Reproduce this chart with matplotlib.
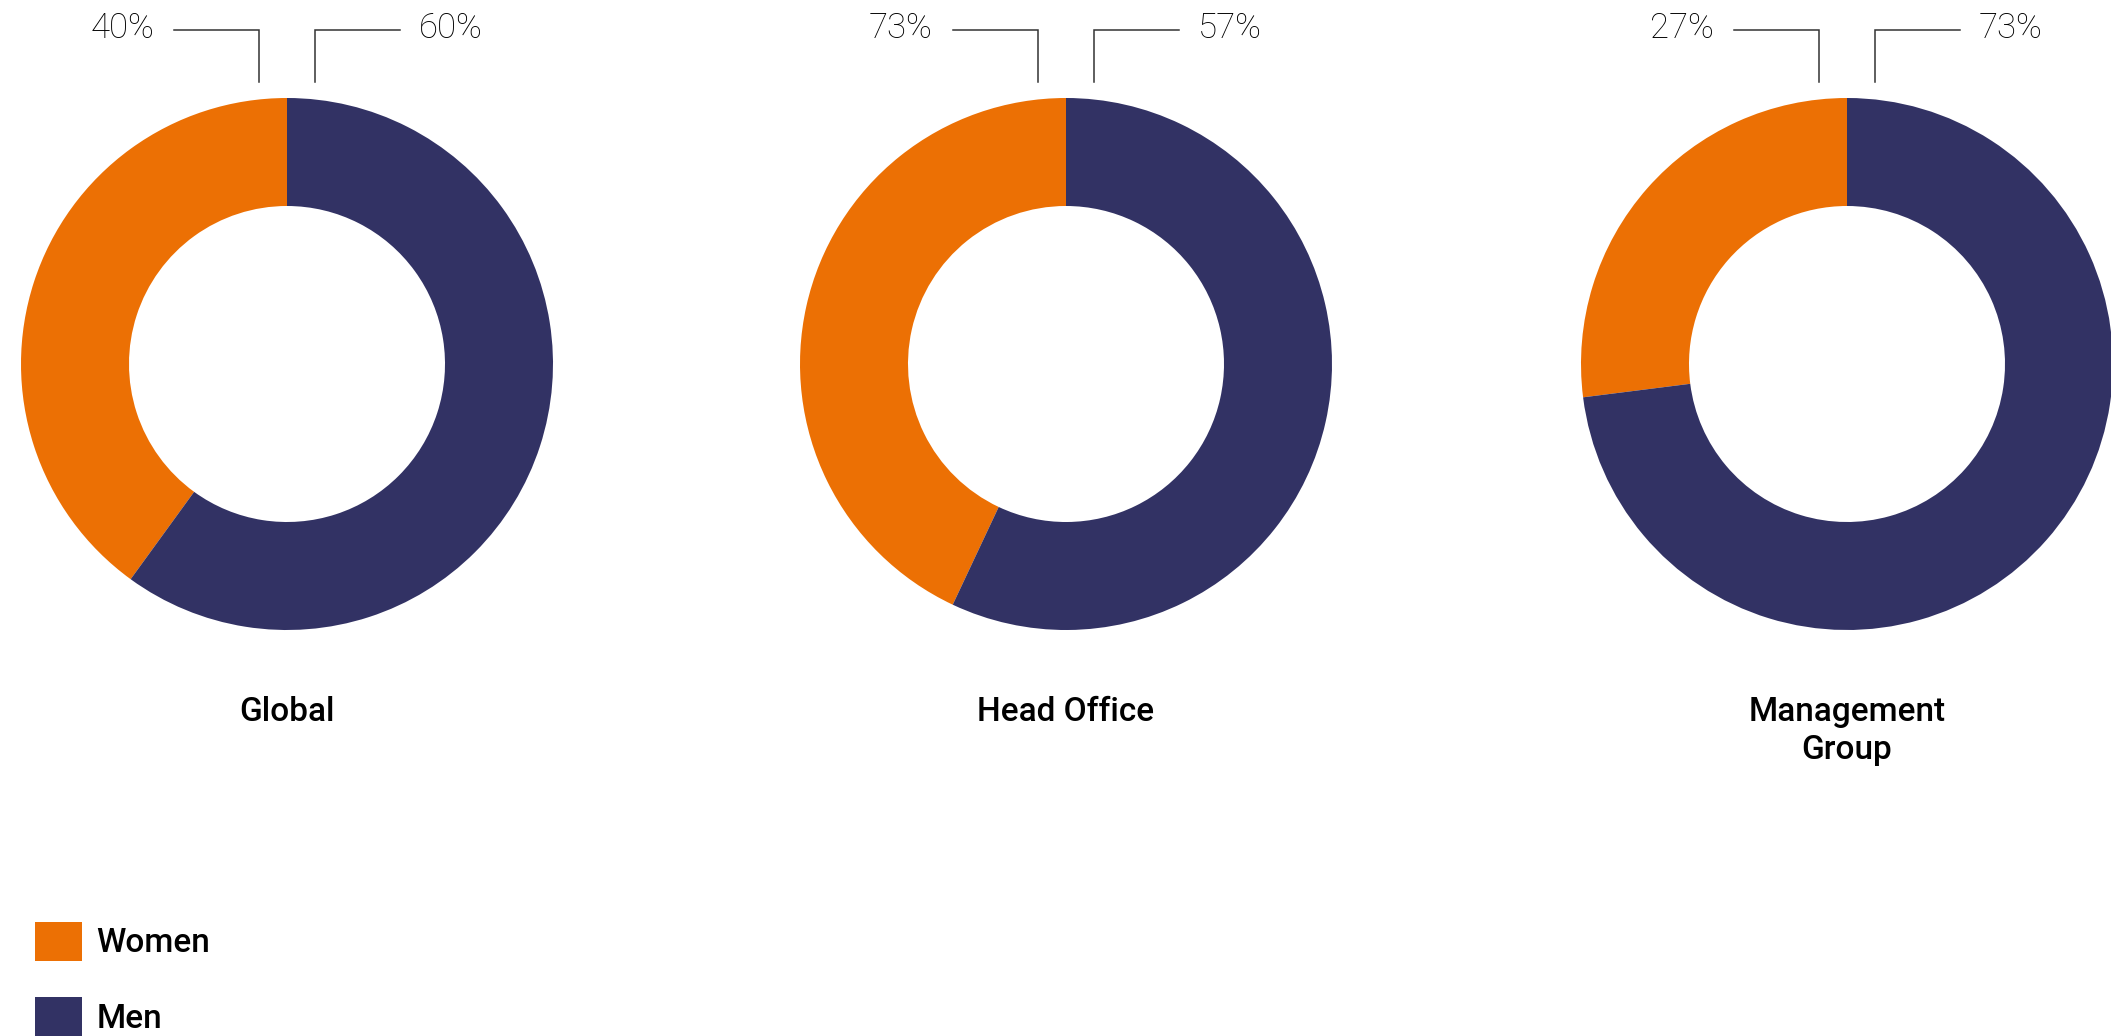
import matplotlib
matplotlib.use('Agg')
import matplotlib.pyplot as plt
from matplotlib.patches import Patch

# data
groups = ["Global", "Head Office", "Management\nGroup"]
women = [40, 43, 27]
men = [60, 57, 73]
# percentage labels exactly as printed on the chart
women_labels = ["40%", "73%", "27%"]
men_labels = ["60%", "57%", "73%"]

ORANGE = "#EC7004"
NAVY = "#323264"
LINE = "#333333"

W, H = 2111, 1036
fig = plt.figure(figsize=(W / 100, H / 100), dpi=100)

centers_x = [287, 1066, 1847]
cy = 364
R = 266

for ii, name in enumerate(groups):
    cx = centers_x[ii]
    ax = fig.add_axes([(cx - R) / W, (H - cy - R) / H, 2 * R / W, 2 * R / H])
    ax.pie([women[ii], men[ii]], colors=[ORANGE, NAVY], startangle=90,
           counterclock=True, radius=1.0,
           wedgeprops=dict(width=0.406, linewidth=0))
    ax.set_xlim(-1, 1)
    ax.set_ylim(-1, 1)
    ax.set_aspect('equal')
    ax.axis('off')

    # leader lines to the labels
    ax.plot([-0.426, -0.106, -0.106], [1.257, 1.257, 1.06], color=LINE, lw=1.1,
            clip_on=False, solid_joinstyle='miter')
    ax.plot([0.426, 0.106, 0.106], [1.257, 1.257, 1.06], color=LINE, lw=1.1,
            clip_on=False, solid_joinstyle='miter')
    ax.text(-0.50, 1.262, women_labels[ii], ha='right', va='center', fontsize=25,
            family='Roboto', fontweight='light', color='black', clip_on=False)
    ax.text(0.495, 1.262, men_labels[ii], ha='left', va='center', fontsize=25,
            family='Roboto', fontweight='light', color='black', clip_on=False)

    fig.text(cx / W, 1 - 696 / H, name, ha='center', va='top', fontsize=24,
             family='Roboto', fontweight='medium', linespacing=1.25, color='black')

handles = [Patch(facecolor=ORANGE, edgecolor='none', label="Women"),
           Patch(facecolor=NAVY, edgecolor='none', label="Men")]
fig.legend(handles=handles, loc='upper left', bbox_to_anchor=(35 / W, 1 - 922 / H),
           frameon=False, handlelength=1.4, handleheight=1.4,
           handletextpad=0.45, labelspacing=1.1, borderaxespad=0, borderpad=0,
           prop={'family': 'Roboto', 'weight': 'medium', 'size': 24})

fig.savefig("out.png", dpi=100)
